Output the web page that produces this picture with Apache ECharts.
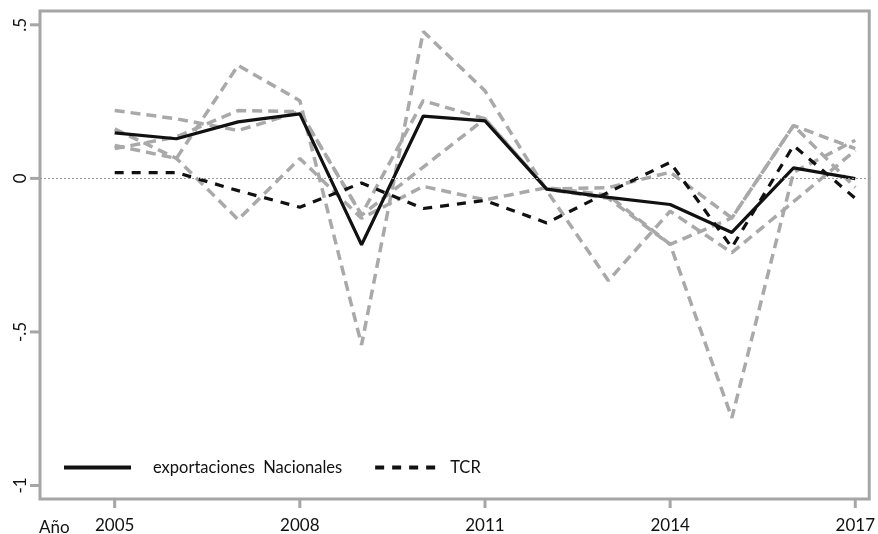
<!DOCTYPE html>
<html>
<head>
<meta charset="utf-8">
<script src="https://cdn.jsdelivr.net/npm/echarts@6/dist/echarts.min.js"></script>
<style>html,body{margin:0;padding:0;background:#fff;}#c{width:878px;height:534px;}</style>
</head>
<body>
<div id="c"></div>
<script>
const years = [2005, 2006, 2007, 2008, 2009, 2010, 2011, 2012, 2013, 2014, 2015, 2016, 2017];
const xTicks = [2005, 2008, 2011, 2014, 2017];
const yTicks = [-1, -0.5, 0, 0.5];
const exportaciones = [0.148, 0.129, 0.184, 0.21, -0.216, 0.203, 0.187, -0.035, -0.062, -0.085, -0.176, 0.034, -0.001];
const tcr = [0.019, 0.019, -0.04, -0.094, -0.015, -0.098, -0.072, -0.145, -0.045, 0.052, -0.225, 0.107, -0.065];
const gris1 = [0.221, 0.194, 0.156, 0.217, -0.12, 0.037, 0.194, -0.035, -0.03, 0.02, -0.129, 0.172, -0.03];
const gris2 = [0.107, 0.065, 0.368, 0.253, -0.542, 0.478, 0.285, -0.04, -0.333, -0.107, -0.242, -0.076, 0.091];
const gris3 = [0.161, 0.065, -0.134, 0.065, -0.13, -0.026, -0.07, -0.03, -0.055, -0.215, -0.78, 0.02, 0.124];
const gris4 = [0.097, 0.135, 0.221, 0.217, -0.118, 0.253, 0.194, -0.035, -0.065, -0.215, -0.129, 0.172, 0.097];

const pairs = arr => years.map((y, i) => [y, arr[i]]);
const FONT = 'Lato, "Open Sans", sans-serif';
const fmtY = v => (v === 0 ? '0' : String(v).replace('0.', '.'));
const BORDER = '#a6a6a6';
const X_MIN = 2003.79, X_MAX = 2017.226, Y_MIN = -1.044, Y_MAX = 0.545;
const grayStyle = {color: '#a9a9a9', width: 3.5, type: [10, 6]};
const grays = [gris1, gris2, gris3, gris4].map((g, i) => ({
  name: 'g' + (i + 1), type: 'line', data: pairs(g), symbol: 'none',
  lineStyle: grayStyle, z: 2, silent: true
}));

const chart = echarts.init(document.getElementById('c'), null, {renderer: 'canvas'});
chart.setOption({
  animation: false,
  backgroundColor: '#fff',
  grid: {left: 40, right: 5, top: 11, bottom: 31, show: true, borderColor: BORDER, borderWidth: 3, backgroundColor: '#fff'},
  xAxis: {
    type: 'value', min: X_MIN, max: X_MAX, position: 'bottom',
    axisLine: {show: false, onZero: false}, splitLine: {show: false}, axisTick: {show: false},
    axisLabel: {customValues: xTicks, fontFamily: FONT, fontSize: 17, color: '#111', margin: 18, formatter: v => String(v)}
  },
  yAxis: {
    type: 'value', min: Y_MIN, max: Y_MAX, position: 'left',
    axisLine: {show: false, onZero: false}, splitLine: {show: false}, axisTick: {show: false},
    axisLabel: {customValues: yTicks, rotate: 90, fontFamily: FONT, fontSize: 17, color: '#111', margin: 11, formatter: fmtY}
  },
  legend: {
    left: 62, top: 459, padding: 0, orient: 'horizontal', itemGap: 31, itemWidth: 67, itemHeight: 14,
    itemStyle: {opacity: 0},
    lineStyle: {width: 4},
    textStyle: {fontFamily: FONT, fontSize: 16.5, color: '#111'},
    data: [
      {name: 'exportaciones  Nacionales', textStyle: {padding: [0, 0, 0, 17]}},
      {name: 'TCR', textStyle: {padding: [0, 0, 0, 3]}}
    ]
  },
  series: [
    ...grays,
    {
      name: 'zero', type: 'line', data: [], silent: true, z: 1,
      markLine: {silent: true, symbol: 'none', label: {show: false}, data: [{yAxis: 0}],
        lineStyle: {color: '#999', width: 1, type: [2, 2]}}
    },
    {name: 'TCR', type: 'line', data: pairs(tcr), symbol: 'none', z: 3,
      lineStyle: {color: '#111', width: 3.2, type: [9, 8]}, itemStyle: {color: '#111'}},
    {name: 'exportaciones  Nacionales', type: 'line', data: pairs(exportaciones), symbol: 'none', z: 4,
      lineStyle: {color: '#111', width: 3.2}, itemStyle: {color: '#111'}}
  ]
});

// axis ticks placed through the library's own scales
const bottomY = chart.convertToPixel({yAxisIndex: 0}, Y_MIN);
const leftX = chart.convertToPixel({xAxisIndex: 0}, X_MIN);
const tickStyle = {stroke: BORDER, lineWidth: 3};
const g = [];
xTicks.forEach((v, i) => {
  const px = chart.convertToPixel({xAxisIndex: 0}, v);
  g.push({id: 'xt' + i, type: 'line', shape: {x1: px, y1: bottomY, x2: px, y2: bottomY + 9}, style: tickStyle, silent: true});
});
yTicks.forEach((v, i) => {
  const py = chart.convertToPixel({yAxisIndex: 0}, v);
  g.push({id: 'yt' + i, type: 'line', shape: {x1: leftX - 10, y1: py, x2: leftX, y2: py}, style: tickStyle, silent: true});
});
g.push({id: 'ano', type: 'text', left: 39, top: 519, style: {text: 'Año', font: '17px ' + FONT, fill: '#111'}});
chart.setOption({graphic: g});
</script>
</body>
</html>
